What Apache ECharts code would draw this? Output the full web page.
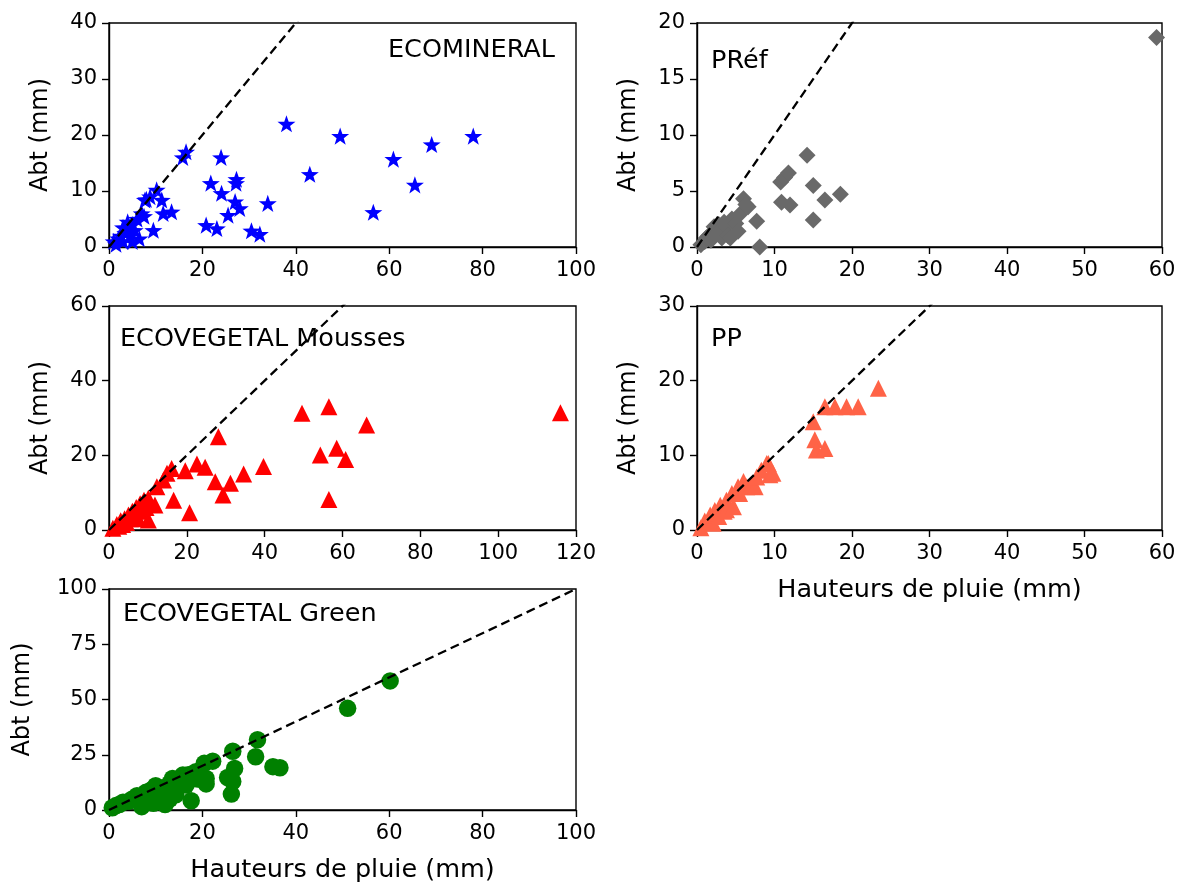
<!DOCTYPE html>
<html>
<head>
<meta charset="utf-8">
<script src="https://cdn.jsdelivr.net/npm/echarts@6/dist/echarts.min.js"></script>
<style>html,body{margin:0;padding:0;background:#fff}#c{width:1183px;height:884px}</style>
</head>
<body>
<div id="c"></div>
<script>
// ---- data ----
const ecomineral = [[1,1],[1.5,0.5],[2,1.5],[2.5,2],[3,1],[3.5,2.5],[4,3],[4.5,2],[5,4],[5.5,3],[6,5],[6.5,1.5],[5,1],[7,6],[3,3.5],[4,4.5],[7.5,5.5],[8,8.5],[7.7,8.4],[8.8,9],[10.2,10.2],[11.3,8.4],[9.5,3],[11.6,6],[13.4,6.3],[15.8,16],[16.5,17],[20.8,3.9],[21.8,11.4],[23.1,3.3],[24,16],[24.1,9.6],[25.5,5.7],[27,8.1],[27.2,11.4],[27.3,12.1],[28,6.9],[30.5,2.9],[32.3,2.3],[34,7.8],[38,22],[43,13],[49.5,19.8],[56.6,6.2],[60.9,15.7],[65.5,11.1],[69.1,18.3],[78,19.8]];
const pref = [[0.5,0.2],[1,0.5],[1.2,0.8],[1.5,1],[1.8,0.6],[2,1.3],[2.2,1.8],[2.5,1.2],[2.8,2],[3,1.5],[3.2,0.8],[3.5,2.2],[3.8,1.8],[4,1],[4.3,0.8],[4.5,2.5],[5,2.1],[5.3,1.4],[5.5,2.9],[6,4.3],[6.3,3.8],[6.6,3.6],[7.7,2.3],[8.1,0],[10.8,5.8],[10.9,4.0],[11.3,6.2],[11.8,6.6],[12,3.75],[14.2,8.2],[15,5.5],[15,2.4],[16.5,4.2],[18.5,4.7],[59.3,18.7]];
const mousses = [[1,0.5],[2,1.5],[2.5,1],[3,2.5],[3.5,1.5],[4,3],[4.5,2],[5,4],[5.5,3],[6,5],[6.5,4],[7,6],[7.5,3],[8,7],[8.5,5],[9,8],[9.5,6],[10.1,8.5],[10.1,2.7],[11.8,6.7],[12.3,11.6],[14,13.4],[14.9,15.2],[16.1,16.5],[16.6,8],[19.6,15.9],[20.7,4.6],[22.6,17.7],[24.7,16.8],[27.3,12.9],[28.1,25],[29.3,9.4],[31.2,12.5],[34.6,15],[39.7,17],[49.6,31.3],[54.3,20.1],[56.5,33],[56.5,8.2],[58.5,21.9],[60.8,18.9],[66.2,28.1],[116,31.4]];
const pp = [[0.5,0.3],[1,1.2],[1.5,1],[1.7,2],[2.1,0.9],[2.3,2.6],[2.8,1.8],[3,3.3],[3.5,2.5],[3.8,4],[3.8,2.7],[4.5,4.9],[4.7,3.1],[5.3,5.8],[5.5,4.9],[6,6.5],[6.4,5.8],[7,6],[7.5,5.8],[7.7,7.1],[8.3,8],[9,8.9],[9.2,8.9],[9.4,7.4],[9.8,7.6],[15,14.5],[15.2,12.1],[15.4,10.7],[16.5,10.9],[16.5,16.5],[17.8,16.5],[19.3,16.5],[20.8,16.5],[23.4,19]];
const green = [[0.7,1],[1.5,2],[2.2,2.5],[3,3.5],[4.3,4],[5,5],[6,6.5],[6.5,5.5],[7,1.5],[7.9,8],[8.6,6.9],[9,9],[9.5,3],[10,11],[10,6],[11,10],[11.8,4.6],[12,2.5],[12.2,9.9],[13,12],[13,5],[13.6,14.3],[14.3,6.9],[15,13],[15.8,15.8],[16.5,11.3],[17,16],[17.6,4.2],[18.6,17.3],[19,14],[20.4,21.1],[20.8,14.3],[20.8,11.8],[22.2,22.1],[25.4,14.7],[26.2,7.2],[26.5,26.6],[26.5,12.9],[26.9,18.8],[31.4,24.1],[31.8,31.8],[35.1,19.6],[36.6,19.1],[51.1,46],[60.2,58.4]];
const panelTitles = ['ECOMINERAL','PRéf','ECOVEGETAL Mousses','PP','ECOVEGETAL Green'];
const xMax = [100, 60, 120, 60, 100];
const xStep = [20, 10, 20, 10, 20];
const yMax = [40, 20, 60, 30, 100];
const yStep = [10, 5, 20, 10, 25];
const yName = 'Abt (mm)';
const xName = 'Hauteurs de pluie (mm)';

// ---- layout ----
const FONT = 'DejaVu Sans';
const grids = [
  {left:109, top:23, width:467, height:224},
  {left:697, top:23, width:465, height:224},
  {left:109, top:306, width:467, height:224},
  {left:697, top:306, width:465, height:224},
  {left:109, top:589, width:467, height:224}
];
const datasets = [ecomineral, pref, mousses, pp, green];
const STAR = 'path://M0,-10 L2.35,-3.24 L9.51,-3.09 L3.8,1.24 L5.88,8.09 L0,4 L-5.88,8.09 L-3.8,1.24 L-9.51,-3.09 L-2.35,-3.24 Z';
const symbols = [STAR, 'diamond', 'triangle', 'triangle', 'circle'];
const sizes = [18, 17, 17, 17, 17.5];
const colors = ['#0000ff', '#696969', '#ff0000', '#ff6347', '#008000'];
const showXName = [false, false, false, true, true];
const yNameGap = [56, 56, 56, 56, 74];

const option = {
  animation: false,
  backgroundColor: '#fff',
  textStyle: {fontFamily: FONT},
  grid: grids.map(g => Object.assign({show: true, borderColor: '#000', borderWidth: 1.4, backgroundColor: 'transparent'}, g)),
  xAxis: grids.map((g, i) => ({
    gridIndex: i, type: 'value', min: 0, max: xMax[i], interval: xStep[i],
    axisLine: {show: true, onZero: false, lineStyle: {color: '#000', width: 1.4}},
    axisTick: {show: true, inside: false, length: 7, lineStyle: {color: '#000', width: 1.4}},
    axisLabel: {color: '#000', fontSize: 21, fontFamily: FONT, margin: 13},
    splitLine: {show: false},
    name: showXName[i] ? xName : '', nameLocation: 'middle', nameGap: 47,
    nameTextStyle: {color: '#000', fontSize: 25.5, fontFamily: FONT}
  })),
  yAxis: grids.map((g, i) => ({
    gridIndex: i, type: 'value', min: 0, max: yMax[i], interval: yStep[i],
    axisLine: {show: true, onZero: false, lineStyle: {color: '#000', width: 1.4}},
    axisTick: {show: true, inside: false, length: 7, lineStyle: {color: '#000', width: 1.4}},
    axisLabel: {color: '#000', fontSize: 21, fontFamily: FONT, margin: 12},
    splitLine: {show: false},
    name: yName, nameLocation: 'middle', nameGap: yNameGap[i], nameRotate: 90,
    nameTextStyle: {color: '#000', fontSize: 24, fontFamily: FONT}
  })),
  series: []
};
datasets.forEach((d, i) => {
  option.series.push({
    type: 'scatter', xAxisIndex: i, yAxisIndex: i, data: d,
    symbol: symbols[i], symbolSize: sizes[i], symbolKeepAspect: true,
    itemStyle: {color: colors[i], opacity: 1}, z: 2, silent: true
  });
  option.series.push({
    type: 'line', xAxisIndex: i, yAxisIndex: i, data: [[0, 0], [xMax[i], xMax[i]]],
    showSymbol: false, symbol: 'none', clip: true,
    lineStyle: {color: '#000', width: 2.3, type: [9, 5]}, z: 3, silent: true
  });
});
// panel texts
const titleDefs = [
  {right: 1183 - 555, top: 38},
  {left: 711, top: 49},
  {left: 120, top: 327},
  {left: 711, top: 327},
  {left: 123, top: 602}
];
option.title = titleDefs.map((t, i) => Object.assign({
  text: panelTitles[i], padding: 0,
  textStyle: {color: '#000', fontSize: 25.5, lineHeight: 25, fontWeight: 'normal', fontFamily: FONT}
}, t));

const chart = echarts.init(document.getElementById('c'), null, {renderer: 'canvas'});
chart.setOption(option);
</script>
</body>
</html>
